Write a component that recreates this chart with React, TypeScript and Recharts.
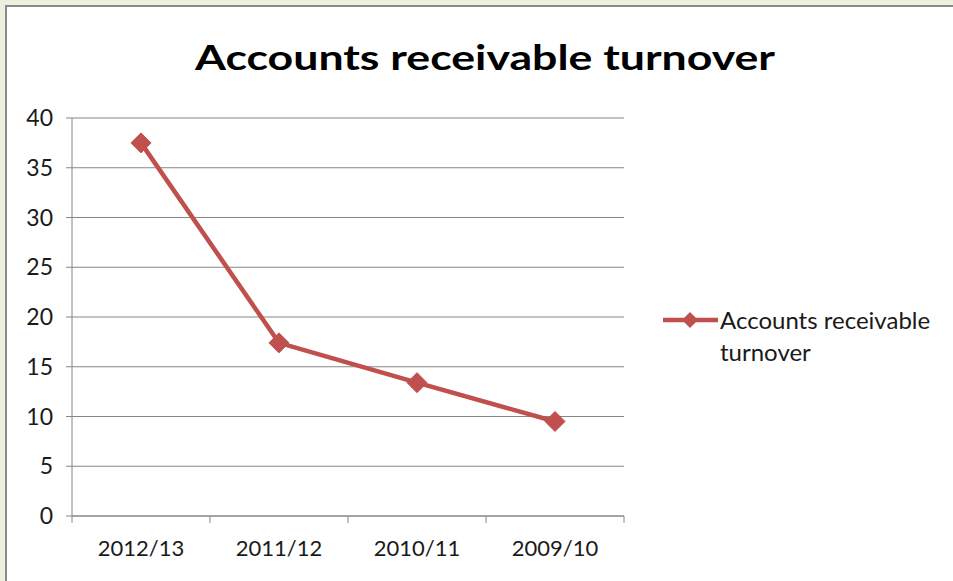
import React from 'react';
import { LineChart, Line, XAxis, YAxis, CartesianGrid, Legend } from 'recharts';

const categories = ['2012/13', '2011/12', '2010/11', '2009/10'];
const turnover = [37.5, 17.4, 13.4, 9.5];
const yTicks = [0, 5, 10, 15, 20, 25, 30, 35, 40];

const seriesName = 'Accounts receivable turnover';
const chartTitle = 'Accounts receivable turnover';

// Each category occupies one unit on the x scale; points sit in the middle of their slot.
const data = categories.map((period, i) => ({ period, slot: i + 0.5, value: turnover[i] }));
// Slot boundaries (tick marks) and slot centres (labels).
const xTicks = categories.flatMap((_, i) => [i, i + 0.5]).concat(categories.length);

const RED = '#c0504d';
const GRID = '#868686';
const FONT = 'Lato, "Open Sans", sans-serif';

const Diamond = (props: any) => {
  const { cx, cy } = props;
  if (cx == null || cy == null) return null;
  const r = 10;
  return (
    <polygon
      points={`${cx},${cy - r} ${cx + r},${cy} ${cx},${cy + r} ${cx - r},${cy}`}
      fill={RED}
      stroke={RED}
      strokeWidth={1}
    />
  );
};

const CategoryTick = (props: any) => {
  const { x, y, payload } = props;
  const v = payload.value as number;
  if (Number.isInteger(v)) {
    return <line x1={x} y1={y} x2={x} y2={y + 7} stroke={GRID} strokeWidth={1} />;
  }
  const label = categories[Math.floor(v)];
  return (
    <text x={x} y={y + 24} dy="0.71em" textAnchor="middle" fill="#1a1a1a" fontSize={22} fontFamily={FONT}>
      {label}
    </text>
  );
};

const LegendContent = () => (
  <div style={{ display: 'flex', alignItems: 'flex-start', fontFamily: FONT, fontSize: 24, color: '#1a1a1a', lineHeight: '32px' }}>
    <svg width={60} height={32} style={{ flex: 'none' }}>
      <line x1={3} y1={16} x2={58} y2={16} stroke={RED} strokeWidth={4.5} />
      <polygon points="30,8 38,16 30,24 22,16" fill={RED} />
    </svg>
    <div style={{ width: 220 }}>{seriesName}</div>
  </div>
);

export default function App() {
  return (
    <div style={{ position: 'absolute', left: 0, top: 0, width: 953, height: 581, background: '#ebf1de', overflow: 'hidden' }}>
      <div
        style={{
          position: 'absolute',
          left: 5,
          top: 5,
          width: 960,
          height: 600,
          background: '#ffffff',
          borderLeft: '2px solid #8a8a8a',
          borderTop: '2px solid #8a8a8a',
        }}
      />
      <svg width={953} height={100} style={{ position: 'absolute', left: 0, top: 0 }}>
        <text
          x={485}
          y={70}
          textAnchor="middle"
          fontFamily={FONT}
          fontWeight={700}
          fontSize={35}
          fill="#000"
          textLength={580}
          lengthAdjust="spacingAndGlyphs"
        >
          {chartTitle}
        </text>
      </svg>
      <div style={{ position: 'absolute', left: 0, top: 0 }}>
        <LineChart
          width={953}
          height={581}
          data={data}
          margin={{ top: 118, right: 49, bottom: 0, left: 0 }}
        >
          <CartesianGrid horizontal vertical={false} stroke={GRID} strokeWidth={1} />
          <XAxis
            dataKey="slot"
            type="number"
            domain={[0, categories.length]}
            ticks={xTicks}
            interval={0}
            height={65}
            tickLine={false}
            tickSize={0}
            tickMargin={0}
            axisLine={{ stroke: GRID }}
            tick={<CategoryTick />}
          />
          <YAxis
            width={72}
            type="number"
            domain={[0, 40]}
            ticks={yTicks}
            interval={0}
            tickSize={6}
            tickMargin={13}
            tickLine={{ stroke: GRID }}
            axisLine={{ stroke: GRID }}
            tick={{ fill: '#1a1a1a', fontSize: 23, fontFamily: FONT }}
          />
          <Legend
            layout="vertical"
            align="right"
            verticalAlign="middle"
            content={<LegendContent />}
            wrapperStyle={{ position: 'absolute', left: 660, top: 304, width: 280 }}
          />
          <Line
            type="linear"
            dataKey="value"
            name={seriesName}
            stroke={RED}
            strokeWidth={4.5}
            dot={<Diamond />}
            activeDot={false}
            isAnimationActive={false}
          />
        </LineChart>
      </div>
    </div>
  );
}
